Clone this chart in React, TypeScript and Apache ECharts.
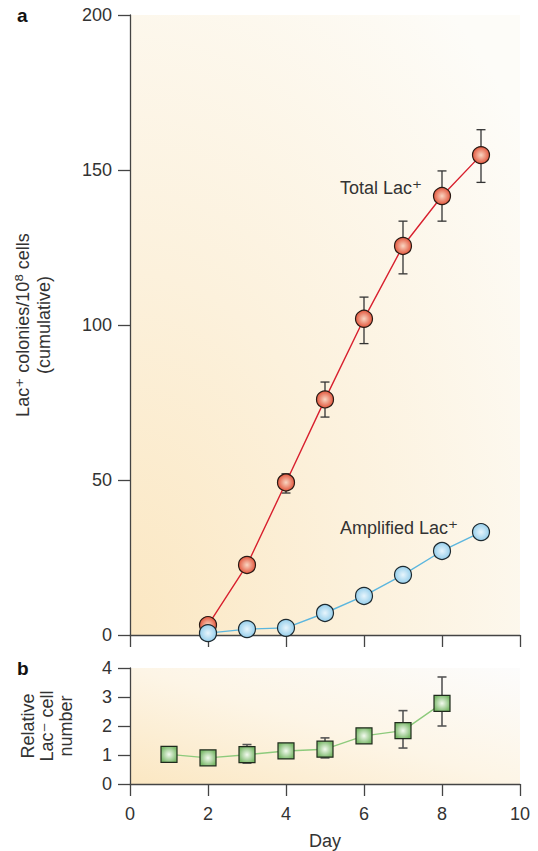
import React, { useEffect, useRef } from "react";
import * as echarts from "echarts";

// ---- data ----
const totalDays = [2, 3, 4, 5, 6, 7, 8, 9];
const totalValues = [3.2, 22.6, 49.2, 76, 102, 125.5, 141.6, 154.8];
const totalErrDays = [4, 5, 6, 7, 8, 9];
const totalErrLow = [45.8, 70.3, 94, 116.5, 133.5, 146];
const totalErrHigh = [52, 81.6, 109, 133.5, 149.7, 163];

const amplifiedDays = [2, 3, 4, 5, 6, 7, 8, 9];
const amplifiedValues = [0.6, 1.9, 2.3, 7.1, 12.6, 19.4, 27.1, 33.2];

const relDays = [1, 2, 3, 4, 5, 6, 7, 8];
const relValues = [1.02, 0.9, 1.01, 1.14, 1.2, 1.66, 1.84, 2.78];
const relErrDays = [3, 5, 7, 8];
const relErrLow = [0.72, 0.9, 1.24, 2.0];
const relErrHigh = [1.36, 1.59, 2.53, 3.69];

const xTicks = [0, 2, 4, 6, 8, 10];
const topYTicks = [0, 50, 100, 150, 200];
const bottomYTicks = [0, 1, 2, 3, 4];

const FONT = "'Liberation Sans', Arial, Helvetica, sans-serif";

export default function App() {
  const ref = useRef<HTMLDivElement>(null);

  useEffect(() => {
    if (!ref.current) return;
    const chart = echarts.init(ref.current, undefined, { renderer: "svg" });

    const zip = (xs: number[], ys: number[]) => xs.map((x, i) => [x, ys[i]]);
    const errData = (xs: number[], lo: number[], hi: number[]) => xs.map((x, i) => [x, lo[i], hi[i]]);

    const makeErr = (capW: number, color: string, lw: number) => (params: any, api: any) => {
      const x = api.value(0);
      const p1 = api.coord([x, api.value(1)]);
      const p2 = api.coord([x, api.value(2)]);
      const st = { stroke: color, lineWidth: lw };
      return {
        type: "group",
        children: [
          { type: "line", shape: { x1: p1[0], y1: p1[1], x2: p2[0], y2: p2[1] }, style: st },
          { type: "line", shape: { x1: p1[0] - capW, y1: p1[1], x2: p1[0] + capW, y2: p1[1] }, style: st },
          { type: "line", shape: { x1: p2[0] - capW, y1: p2[1], x2: p2[0] + capW, y2: p2[1] }, style: st },
        ],
      };
    };

    const radial = (c0: string, c1: string) =>
      new echarts.graphic.RadialGradient(0.5, 0.5, 0.55, [
        { offset: 0, color: c0 },
        { offset: 1, color: c1 },
      ]);

    const axisLineStyle = { color: "#444", width: 1.3 };
    const labelStyle = { fontFamily: FONT, fontSize: 18, color: "#333" };

    const supStyle = (lh: number) => ({
      fontFamily: "'DejaVu Sans', sans-serif",
      fontSize: 19,
      color: "#333",
      lineHeight: lh,
      verticalAlign: "top",
    });

    const topBg = new echarts.graphic.RadialGradient(0, 1, 1.3, [
      { offset: 0, color: "#fbe7c2" },
      { offset: 0.45, color: "#fcf1dc" },
      { offset: 1, color: "#fdfcf8" },
    ]);
    const bottomBg = new echarts.graphic.LinearGradient(0, 1, 1, 0, [
      { offset: 0, color: "#fbe7c2" },
      { offset: 0.5, color: "#fdf5e6" },
      { offset: 1, color: "#fcfcfc" },
    ]);

    chart.setOption({
      animation: false,
      grid: [
        { left: 130, top: 15, width: 390, height: 620, show: true, borderWidth: 0, backgroundColor: topBg },
        { left: 130, top: 668, width: 390, height: 116, show: true, borderWidth: 0, backgroundColor: bottomBg },
      ],
      xAxis: [
        {
          type: "value", gridIndex: 0, min: 0, max: 10, interval: 2,
          axisLine: { show: true, lineStyle: axisLineStyle },
          axisTick: { show: true, length: 12, lineStyle: axisLineStyle },
          axisLabel: { show: false },
          splitLine: { show: false },
        },
        {
          type: "value", gridIndex: 1, min: 0, max: 10, interval: 2,
          axisLine: { show: true, lineStyle: axisLineStyle },
          axisTick: { show: true, length: 12, lineStyle: axisLineStyle },
          axisLabel: { ...labelStyle, margin: 21, formatter: (v: number) => (xTicks.includes(v) ? String(v) : "") },
          splitLine: { show: false },
          name: "Day", nameLocation: "middle", nameGap: 48,
          nameTextStyle: { fontFamily: FONT, fontSize: 18, color: "#333" },
        },
      ],
      yAxis: [
        {
          type: "value", gridIndex: 0, min: 0, max: 200, interval: 50,
          axisLine: { show: true, lineStyle: axisLineStyle },
          axisTick: { show: true, length: 12, lineStyle: axisLineStyle },
          axisLabel: { ...labelStyle, margin: 18, formatter: (v: number) => (topYTicks.includes(v) ? String(v) : "") },
          splitLine: { show: false },
          name: "Lac{sup|⁺} colonies/10{sup|⁸} cells\n(cumulative)", nameLocation: "middle", nameGap: 76, nameRotate: 90,
          nameTextStyle: {
            fontFamily: FONT, fontSize: 18, color: "#333", lineHeight: 21, align: "center",
            rich: { sup: supStyle(21) },
          },
        },
        {
          type: "value", gridIndex: 1, min: 0, max: 4, interval: 1,
          axisLine: { show: true, lineStyle: axisLineStyle },
          axisTick: { show: true, length: 12, lineStyle: axisLineStyle },
          axisLabel: { ...labelStyle, margin: 18, formatter: (v: number) => (bottomYTicks.includes(v) ? String(v) : "") },
          splitLine: { show: false },
          name: "Relative\nLac{sup|⁻} cell\nnumber", nameLocation: "middle", nameGap: 55, nameRotate: 90,
          nameTextStyle: {
            fontFamily: FONT, fontSize: 18, color: "#333", lineHeight: 19, align: "center",
            rich: { sup: supStyle(19) },
          },
        },
      ],
      graphic: [
        { type: "text", left: 17, top: 6, style: { text: "a", font: `bold 19px ${FONT}`, fill: "#111" } },
        { type: "text", left: 17, top: 659, style: { text: "b", font: `bold 19px ${FONT}`, fill: "#111" } },
        {
          type: "text", left: 340, top: 177,
          style: { text: "Total Lac{sup|⁺}", font: `18px ${FONT}`, fill: "#333", lineHeight: 22, rich: { sup: { ...supStyle(22), fill: "#333" } } },
        },
        {
          type: "text", left: 340, top: 517,
          style: { text: "Amplified Lac{sup|⁺}", font: `18px ${FONT}`, fill: "#333", lineHeight: 22, rich: { sup: { ...supStyle(22), fill: "#333" } } },
        },
      ],
      series: [
        {
          type: "custom", xAxisIndex: 0, yAxisIndex: 0, z: 1,
          renderItem: makeErr(4.5, "#333", 1.3),
          encode: { x: 0, y: [1, 2] },
          data: errData(totalErrDays, totalErrLow, totalErrHigh),
        },
        {
          type: "line", xAxisIndex: 0, yAxisIndex: 0, z: 3,
          data: zip(totalDays, totalValues),
          symbol: "circle", symbolSize: 17,
          lineStyle: { color: "#d8202e", width: 1.4 },
          itemStyle: { color: radial("#f9d6c2", "#e04a30"), borderColor: "#2a1a14", borderWidth: 1.2 },
        },
        {
          type: "line", xAxisIndex: 0, yAxisIndex: 0, z: 4,
          data: zip(amplifiedDays, amplifiedValues),
          symbol: "circle", symbolSize: 17,
          lineStyle: { color: "#5cb6de", width: 1.4 },
          itemStyle: { color: radial("#e8f5fc", "#8ecbea"), borderColor: "#1e2a30", borderWidth: 1.2 },
        },
        {
          type: "custom", xAxisIndex: 1, yAxisIndex: 1, z: 1,
          renderItem: makeErr(4.5, "#555", 1.6),
          encode: { x: 0, y: [1, 2] },
          data: errData(relErrDays, relErrLow, relErrHigh),
        },
        {
          type: "line", xAxisIndex: 1, yAxisIndex: 1, z: 3,
          data: zip(relDays, relValues),
          symbol: "rect", symbolSize: 16,
          lineStyle: { color: "#8dca7c", width: 1.4 },
          itemStyle: { color: radial("#f3faef", "#79b869"), borderColor: "#1f2a1c", borderWidth: 1.2 },
        },
      ],
    });

    return () => chart.dispose();
  }, []);

  return <div ref={ref} style={{ width: 538, height: 851, position: "absolute", left: 0, top: 0 }} />;
}
